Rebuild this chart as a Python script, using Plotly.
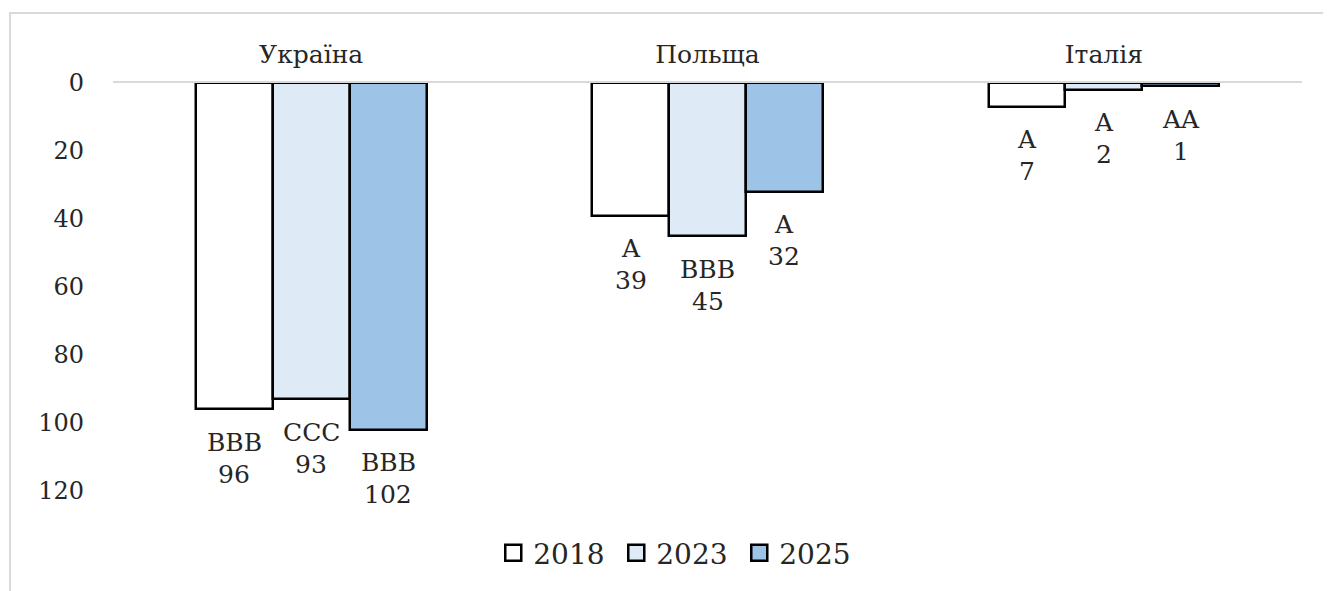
import plotly.graph_objects as go

categories = ["Україна", "Польща", "Італія"]
years = ["2018", "2023", "2025"]
values_2018 = [96, 39, 7]
values_2023 = [93, 45, 2]
values_2025 = [102, 32, 1]
ratings_2018 = ["BBB", "A", "A"]
ratings_2023 = ["CCC", "BBB", "A"]
ratings_2025 = ["BBB", "A", "AA"]
y_ticks = [0, 20, 40, 60, 80, 100, 120]

series_values = [values_2018, values_2023, values_2025]
series_ratings = [ratings_2018, ratings_2023, ratings_2025]
colors = ["#ffffff", "#deebf7", "#9dc3e6"]

FONT = "DejaVu Serif"
TXT = "#262626"
bar_w = 0.194

W, H = 1323, 583          # page has an 8px body margin
ML, MR, MT, MB = 105, 29, 75, 100
PLOT_H = H - MT - MB

fig = go.Figure()
annotations = []
cat_idx = list(range(len(categories)))
for j, (yr, vals, rats, col) in enumerate(zip(years, series_values, series_ratings, colors)):
    xs = [i + (j - 1) * bar_w for i in cat_idx]
    fig.add_trace(go.Bar(
        x=xs, y=vals, width=bar_w, name=yr, showlegend=False,
        marker=dict(color=col, line=dict(color="black", width=2.5)),
        hoverinfo="skip",
    ))
    fig.add_trace(go.Scatter(
        x=[None], y=[None], mode="markers", name=yr,
        marker=dict(symbol="square", size=19, color=col,
                    line=dict(color="black", width=2.5)),
    ))
    for x, v, r in zip(xs, vals, rats):
        annotations.append(dict(x=x, y=v, xref="x", yref="y", text=r,
                                showarrow=False, yanchor="middle", yshift=-33,
                                font=dict(family=FONT, size=25, color=TXT)))
        annotations.append(dict(x=x, y=v, xref="x", yref="y", text=str(v),
                                showarrow=False, yanchor="middle", yshift=-65,
                                font=dict(family=FONT, size=25, color=TXT)))

fig.update_layout(
    width=W, height=H,
    margin=dict(l=ML, r=MR, t=MT, b=MB),
    paper_bgcolor="white", plot_bgcolor="white",
    font=dict(family=FONT, size=24, color=TXT),
    bargap=0, barmode="overlay",
    showlegend=True,
    legend=dict(orientation="h", x=0.475, xanchor="center", y=-0.152, yanchor="middle",
                font=dict(family=FONT, size=28, color=TXT),
                entrywidth=78, itemclick=False),
    annotations=annotations,
    shapes=[dict(type="rect", xref="paper", yref="paper",
                 x0=(2 - ML) / (W - ML - MR), x1=1.2, y0=-0.4,
                 y1=(H - MB - 5) / PLOT_H,
                 line=dict(color="#d9d9d9", width=2), fillcolor="rgba(0,0,0,0)",
                 layer="below")],
)
fig.update_xaxes(
    range=[-0.5, len(categories) - 0.5], side="top",
    tickvals=cat_idx, ticktext=categories,
    showline=True, linecolor="#d9d9d9", linewidth=2,
    showgrid=False, zeroline=False, ticks="",
    ticklabelstandoff=8,
    tickfont=dict(family=FONT, size=25, color=TXT),
)
fig.update_yaxes(
    range=[120, 0], tickvals=y_ticks,
    showline=False, showgrid=False, zeroline=False, ticks="",
    ticklabelstandoff=28,
    tickfont=dict(family=FONT, size=24, color=TXT),
)

fig.write_html("out.html")
